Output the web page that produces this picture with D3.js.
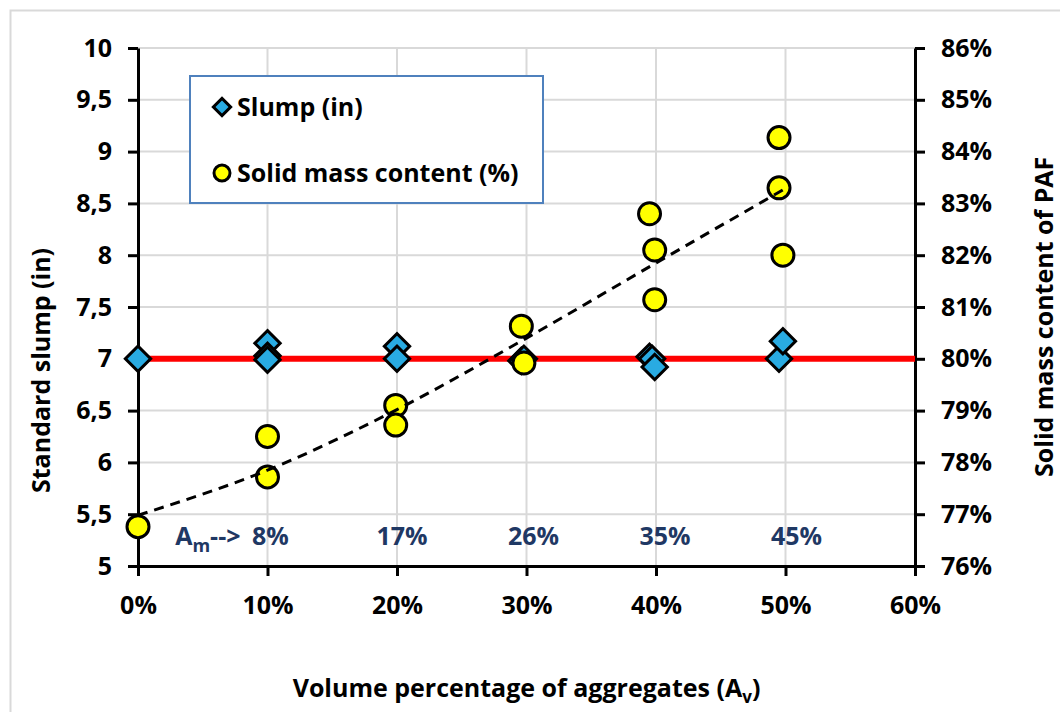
<!DOCTYPE html>
<html>
<head>
<meta charset="utf-8">
<script src="https://cdn.jsdelivr.net/npm/d3@7"></script>
<style>
  body { margin: 0; background: #fff; }
  text { font-family: "Open Sans", "Noto Sans", sans-serif; font-weight: 700; }
</style>
</head>
<body>
<script>
// volume percentage of aggregates (x) and slump readings
const slumpX = [0, 10, 10, 10, 20, 20, 29.6, 29.8, 39.5, 39.7, 39.9, 49.5, 49.8];
const slumpY = [7.0, 7.15, 7.03, 6.99, 7.12, 7.0, 6.98, 7.0, 7.02, 7.0, 6.92, 7.0, 7.17];

// solid mass content of PAF (%)
const solidX = [0, 10, 10, 19.9, 19.9, 29.6, 29.8, 39.5, 39.9, 39.9, 49.5, 49.5, 49.8];
const solidY = [76.76, 78.5, 77.72, 79.1, 78.72, 80.63, 79.92, 82.8, 82.1, 81.14, 84.27, 83.3, 82.0];

// dashed trend of solid mass content
const trendX = [0, 10, 20, 30, 40, 49.8];
const trendY = [76.98, 77.85, 79.02, 80.4, 81.85, 83.26];

// target slump line
const refX = [0, 60];
const refY = [7, 7];

// mass percentage of aggregates shown above the x axis
const amAt = [10, 20, 30, 40, 50];
const amLabels = ["8%", "17%", "26%", "35%", "45%"];

const xTicks = [0, 10, 20, 30, 40, 50, 60];
const yTicks = [5, 5.5, 6, 6.5, 7, 7.5, 8, 8.5, 9, 9.5, 10];
const y2Ticks = [76, 77, 78, 79, 80, 81, 82, 83, 84, 85, 86];

const width = 1060;
const height = 712;
const margin = { top: 48, right: 145, bottom: 146, left: 138 };

const svg = d3.select("body")
  .append("svg")
  .attr("width", width)
  .attr("height", height);

// outer chart frame
svg.append("rect")
  .attr("x", 10.5).attr("y", 10.5)
  .attr("width", 1100).attr("height", 800)
  .attr("fill", "#fff")
  .attr("stroke", "#d9d9d9")
  .attr("stroke-width", 2);

const x = d3.scaleLinear().domain([0, 60]).range([margin.left, width - margin.right]);
const y = d3.scaleLinear().domain([5, 10]).range([height - margin.bottom, margin.top]);
const y2 = d3.scaleLinear().domain([76, 86]).range([height - margin.bottom, margin.top]);

// gridlines
svg.append("g")
  .selectAll("line.h")
  .data(yTicks.slice(1))
  .join("line")
  .attr("x1", x(0)).attr("x2", x(60))
  .attr("y1", d => y(d)).attr("y2", d => y(d))
  .attr("stroke", "#d9d9d9").attr("stroke-width", 2);

svg.append("g")
  .selectAll("line.v")
  .data(xTicks.slice(1, -1))
  .join("line")
  .attr("x1", d => x(d)).attr("x2", d => x(d))
  .attr("y1", y(5)).attr("y2", y(10))
  .attr("stroke", "#d9d9d9").attr("stroke-width", 2);

function styleAxis(g) {
  g.select(".domain").attr("stroke", "#000").attr("stroke-width", 3);
  g.selectAll(".tick line").attr("stroke", "#000").attr("stroke-width", 3);
  g.selectAll(".tick text").attr("fill", "#000").attr("font-size", 25);
}

svg.append("g")
  .attr("transform", `translate(${x(0)},0)`)
  .call(d3.axisLeft(y).tickValues(yTicks).tickSize(10).tickSizeOuter(0).tickPadding(16)
    .tickFormat(d => String(d).replace(".", ",")))
  .call(styleAxis);

svg.append("g")
  .attr("transform", `translate(${x(60)},0)`)
  .call(d3.axisRight(y2).tickValues(y2Ticks).tickSize(10).tickSizeOuter(0).tickPadding(16)
    .tickFormat(d => d + "%"))
  .call(styleAxis);

svg.append("g")
  .attr("transform", `translate(0,${y(5)})`)
  .call(d3.axisBottom(x).tickValues(xTicks).tickSize(10).tickSizeOuter(0).tickPadding(20)
    .tickFormat(d => d + "%"))
  .call(styleAxis);

// target line at 7 in
svg.append("path")
  .datum(d3.zip(refX, refY))
  .attr("fill", "none")
  .attr("stroke", "#ff0000")
  .attr("stroke-width", 6)
  .attr("d", d3.line().x(d => x(d[0])).y(d => y(d[1])));

const diamond = d3.symbol(d3.symbolSquare, 320);

svg.append("g")
  .selectAll("path")
  .data(d3.zip(slumpX, slumpY))
  .join("path")
  .attr("d", diamond)
  .attr("transform", d => `translate(${x(d[0])},${y(d[1])}) rotate(45)`)
  .attr("fill", "#29abe2")
  .attr("stroke", "#000")
  .attr("stroke-width", 3);

svg.append("g")
  .selectAll("circle")
  .data(d3.zip(solidX, solidY))
  .join("circle")
  .attr("cx", d => x(d[0]))
  .attr("cy", d => y2(d[1]))
  .attr("r", 11)
  .attr("fill", "#ffff00")
  .attr("stroke", "#000")
  .attr("stroke-width", 3);

svg.append("path")
  .datum(d3.zip(trendX, trendY))
  .attr("fill", "none")
  .attr("stroke", "#000")
  .attr("stroke-width", 3)
  .attr("stroke-dasharray", "10,7")
  .attr("d", d3.line().curve(d3.curveMonotoneX).x(d => x(d[0])).y(d => y2(d[1])));

// A_m labels
const amY = 545;
const am = svg.append("text")
  .attr("x", x(amAt[0]) - 27)
  .attr("y", amY)
  .attr("text-anchor", "end")
  .attr("fill", "#1f3864")
  .attr("font-size", 25);
am.append("tspan").text("A");
am.append("tspan").attr("dy", 7).attr("font-size", 18).text("m");
am.append("tspan").attr("dy", -7).text("-->");

svg.append("g")
  .selectAll("text")
  .data(d3.zip(amAt, amLabels))
  .join("text")
  .attr("x", (d, i) => x(d[0]) + 3 + i * 2)
  .attr("y", amY)
  .attr("text-anchor", "middle")
  .attr("fill", "#1f3864")
  .attr("font-size", 25)
  .text(d => d[1]);

// axis titles
svg.append("text")
  .attr("transform", "translate(50,493) rotate(-90)")
  .attr("font-size", 25)
  .attr("fill", "#000")
  .text("Standard slump (in)");

svg.append("text")
  .attr("transform", "translate(1053,477) rotate(-90)")
  .attr("font-size", 25)
  .attr("fill", "#000")
  .text("Solid mass content of PAF");

const xt = svg.append("text")
  .attr("x", (x(0) + x(60)) / 2)
  .attr("y", 697)
  .attr("text-anchor", "middle")
  .attr("font-size", 25)
  .attr("fill", "#000");
xt.append("tspan").text("Volume percentage of aggregates (A");
xt.append("tspan").attr("dy", 6).attr("font-size", 17).text("v");
xt.append("tspan").attr("dy", -6).text(")");

// legend
const legend = svg.append("g");
legend.append("rect")
  .attr("x", 190).attr("y", 76)
  .attr("width", 353).attr("height", 127)
  .attr("fill", "#fff")
  .attr("stroke", "#4f81bd")
  .attr("stroke-width", 2);

legend.append("path")
  .attr("d", d3.symbol(d3.symbolSquare, 150))
  .attr("transform", "translate(222,107) rotate(45)")
  .attr("fill", "#29abe2").attr("stroke", "#000").attr("stroke-width", 3);
legend.append("text")
  .attr("x", 237).attr("y", 116)
  .attr("font-size", 25).attr("fill", "#000")
  .text("Slump (in)");

legend.append("circle")
  .attr("cx", 222).attr("cy", 173).attr("r", 8)
  .attr("fill", "#ffff00").attr("stroke", "#000").attr("stroke-width", 3);
legend.append("text")
  .attr("x", 237).attr("y", 182)
  .attr("font-size", 25).attr("fill", "#000")
  .text("Solid mass content (%)");
</script>
</body>
</html>
